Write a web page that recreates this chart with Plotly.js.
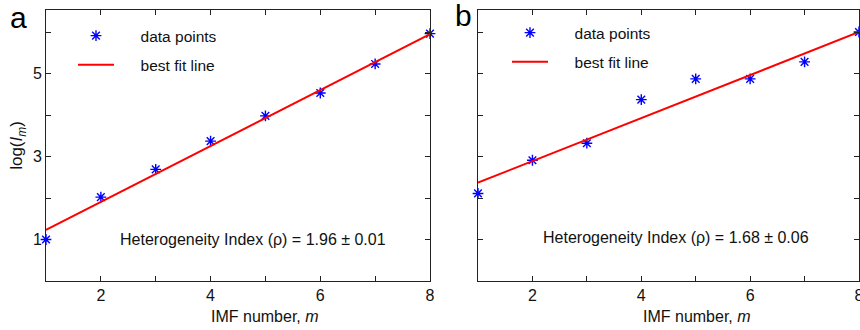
<!DOCTYPE html>
<html><head><meta charset="utf-8">
<script src="https://cdn.plot.ly/plotly-3.0.1.min.js"></script>
<style>html,body{margin:0;padding:0;background:#fff}</style>
</head><body>
<div id="chart" style="width:860px;height:330px"></div>
<script>
// ---- data ----
const imf = [1, 2, 3, 4, 5, 6, 7, 8];
const logA = [1.00, 2.02, 2.69, 3.37, 3.98, 4.53, 5.23, 5.96];
const logB = [2.11, 2.91, 3.32, 4.37, 4.87, 4.87, 5.28, 6.00];
const fitX = [1, 8];
const fitA = [1.23, 5.95];
const fitB = [2.37, 6.00];
const xTickVals = [2, 3, 4, 5, 6, 7, 8];
const xTickText = ["2", "", "4", "", "6", "", "8"];
const yTickVals = [0, 1, 2, 3, 4, 5, 6];
const yTickTextA = ["", "1", "", "3", "", "5", ""];
const yTickTextB = ["", "", "", "", "", "", ""];
const legendNames = ["data points", "best fit line"];
const xTitle = "IMF number, <i>m</i>";
const yTitle = "log(<i>I<sub>m</sub></i>)";
const hetA = "Heterogeneity Index (\u03C1) = 1.96 \u00B1 0.01";
const hetB = "Heterogeneity Index (\u03C1) = 1.68 \u00B1 0.06";

const pad = "\u00A0\u00A0\u00A0\u00A0\u00A0";
const FONT = "Liberation Sans, Arial, sans-serif";
const blue = "#0000FF", red = "#FF0000";

function pts(y, xa, ya, leg) {
  return {x: imf, y: y, xaxis: xa, yaxis: ya, type: "scatter", mode: "markers",
    name: pad + legendNames[0], legend: leg, legendgroup: leg + "p", cliponaxis: false,
    marker: {symbol: "asterisk-open", size: 9, color: blue, line: {color: blue, width: 1.4}}};
}
function fit(y, xa, ya, leg) {
  return {x: fitX, y: y, xaxis: xa, yaxis: ya, type: "scatter", mode: "lines",
    name: pad + legendNames[1], legend: leg, legendgroup: leg + "l",
    line: {color: red, width: 2}};
}
const data = [
  pts(logA, "x", "y", "legend"), fit(fitA, "x", "y", "legend"),
  pts(logB, "x2", "y2", "legend2"), fit(fitB, "x2", "y2", "legend2")
];

const axCommon = {range: [1, 8], showline: true, mirror: "ticks", linecolor: "#222", linewidth: 1,
  ticks: "inside", ticklen: 5, tickcolor: "#222", tickmode: "array",
  tickvals: xTickVals, ticktext: xTickText, showgrid: false, zeroline: false,
  ticklabeloverflow: "allow",
  tickfont: {family: FONT, size: 16, color: "#111"}};
const ayCommon = {range: [0, 6.53], showline: true, mirror: "ticks", linecolor: "#222", linewidth: 1,
  ticks: "inside", ticklen: 5, tickcolor: "#222", tickmode: "array",
  tickvals: yTickVals, showgrid: false, zeroline: false,
  tickfont: {family: FONT, size: 16, color: "#111"}};

const legCommon = {font: {family: FONT, size: 15.5, color: "#111"}, bgcolor: "rgba(0,0,0,0)",
  traceorder: "grouped", tracegroupgap: 6, itemwidth: 36, xanchor: "left", yanchor: "top",
  xref: "paper", yref: "paper"};

const layout = {
  width: 860, height: 330, margin: {l: 0, r: 0, t: 0, b: 0},
  paper_bgcolor: "#fff", plot_bgcolor: "#fff", showlegend: true,
  xaxis: Object.assign({}, axCommon, {domain: [46/860, 430/860], anchor: "y"}),
  yaxis: Object.assign({}, ayCommon, {domain: [1 - 281/330, 1 - 10/330], anchor: "x",
    ticktext: yTickTextA,
    title: {text: yTitle, font: {family: FONT, size: 17, color: "#111"}, standoff: 5}}),
  xaxis2: Object.assign({}, axCommon, {domain: [478/860, 859/860], anchor: "y2"}),
  yaxis2: Object.assign({}, ayCommon, {domain: [1 - 281/330, 1 - 10/330], anchor: "x2",
    ticktext: yTickTextB}),
  legend: Object.assign({}, legCommon, {x: 73/860, y: 1 - 19/330}),
  legend2: Object.assign({}, legCommon, {x: 507/860, y: 1 - 16/330}),
  annotations: [
    {text: hetA, xref: "paper", yref: "paper", x: 253/860, y: 1 - 239/330, showarrow: false,
     font: {family: FONT, size: 16, color: "#111"}, xanchor: "center", yanchor: "middle"},
    {text: hetB, xref: "paper", yref: "paper", x: 676/860, y: 1 - 237/330, showarrow: false,
     font: {family: FONT, size: 16, color: "#111"}, xanchor: "center", yanchor: "middle"},
    {text: xTitle, xref: "paper", yref: "paper", x: 265/860, y: 1 - 316/330, showarrow: false,
     font: {family: FONT, size: 16, color: "#111"}, xanchor: "center", yanchor: "middle"},
    {text: xTitle, xref: "paper", yref: "paper", x: 697/860, y: 1 - 316/330, showarrow: false,
     font: {family: FONT, size: 16, color: "#111"}, xanchor: "center", yanchor: "middle"},
    {text: "a", xref: "paper", yref: "paper", x: 18/860, y: 1 - 17/330, showarrow: false,
     font: {family: FONT, size: 30, color: "#000"}, xanchor: "center", yanchor: "middle"},
    {text: "b", xref: "paper", yref: "paper", x: 463/860, y: 1 - 16/330, showarrow: false,
     font: {family: FONT, size: 30, color: "#000"}, xanchor: "center", yanchor: "middle"}
  ]
};
Plotly.newPlot("chart", data, layout, {displayModeBar: false, staticPlot: true});
</script>
</body></html>
